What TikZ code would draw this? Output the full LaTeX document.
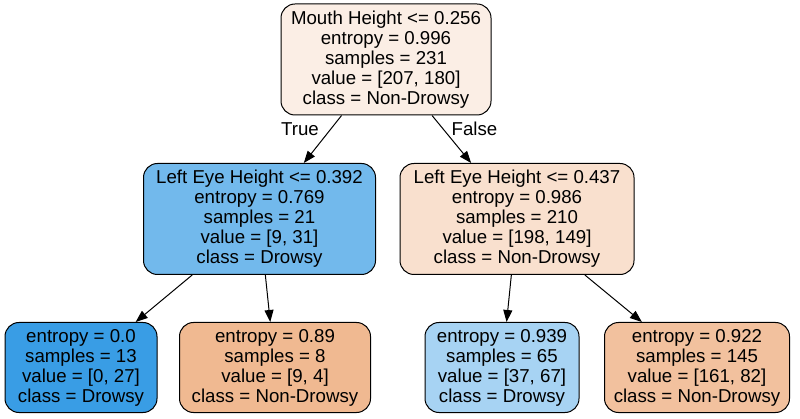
\documentclass[tikz,border=0pt]{standalone}
\usepackage{fontspec}
\setmainfont{Liberation Sans}
\usetikzlibrary{arrows.meta}

\definecolor{rootfill}{RGB}{251,238,229}
\definecolor{leftfill}{RGB}{114,185,236}
\definecolor{rightfill}{RGB}{249,224,206}
\definecolor{leafa}{RGB}{57,157,229}
\definecolor{leafb}{RGB}{240,185,145}
\definecolor{leafc}{RGB}{167,211,243}
\definecolor{leafd}{RGB}{242,193,158}

\tikzset{
  treenode/.style={draw=black,line width=1pt,rounded corners=14pt,align=center,inner sep=0pt,font=\fontsize{18.67}{20}\selectfont},
  split/.style={treenode,minimum height=111pt},
  leaf/.style={treenode,minimum height=90pt},
  branch/.style={line width=1pt,-{Triangle[length=12pt,width=9pt]}},
  branchlabel/.style={font=\fontsize{18.67}{20}\selectfont,inner sep=0pt}
}

\begin{document}
\begin{tikzpicture}[x=1pt,y=-1pt]
\useasboundingbox (0,0) rectangle (800,419);

\node[split,fill=rootfill,minimum width=210pt] (root) at (386,59.5) {Mouth Height <= 0.256\\entropy = 0.996\\samples = 231\\value = [207, 180]\\class = Non-Drowsy};
\node[split,fill=leftfill,minimum width=232pt] (lefteye) at (259.5,219) {Left Eye Height <= 0.392\\entropy = 0.769\\samples = 21\\value = [9, 31]\\class = Drowsy};
\node[split,fill=rightfill,minimum width=234pt] (righteye) at (517,219) {Left Eye Height <= 0.437\\entropy = 0.986\\samples = 210\\value = [198, 149]\\class = Non-Drowsy};

\node[leaf,fill=leafa,minimum width=152pt] (leafa) at (81,367.5) {entropy = 0.0\\samples = 13\\value = [0, 27]\\class = Drowsy};
\node[leaf,fill=leafb,minimum width=191pt] (leafb) at (275,367.5) {entropy = 0.89\\samples = 8\\value = [9, 4]\\class = Non-Drowsy};
\node[leaf,fill=leafc,minimum width=154pt] (leafc) at (502,367.5) {entropy = 0.939\\samples = 65\\value = [37, 67]\\class = Drowsy};
\node[leaf,fill=leafd,minimum width=185pt] (leafd) at (697,367.5) {entropy = 0.922\\samples = 145\\value = [161, 82]\\class = Non-Drowsy};

\draw[branch] (root) -- (lefteye);
\draw[branch] (root) -- (righteye);
\draw[branch] (lefteye) -- (leafa);
\draw[branch] (lefteye) -- (leafb);
\draw[branch] (righteye) -- (leafc);
\draw[branch] (righteye) -- (leafd);

\node[branchlabel] (truelabel) at (300,129) {True};
\node[branchlabel] (falselabel) at (474.5,129) {False};
\end{tikzpicture}
\end{document}
